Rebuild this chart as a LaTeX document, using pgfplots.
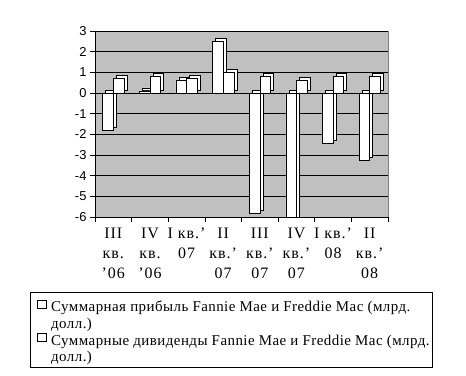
\documentclass[border=0pt]{standalone}
\usepackage{pgfplots}
\pgfplotsset{compat=1.18}
\usepackage{fontspec}
\setmainfont{Liberation Serif}
\newfontfamily\legserif{Liberation Serif}[LetterSpace=3]
\newfontfamily\wideserif{Liberation Serif}[LetterSpace=6]
\newfontfamily\arialfont{Liberation Sans}
\definecolor{wall}{HTML}{C0C0C0}
\begin{document}
\begin{tikzpicture}
\path[use as bounding box] (0,0) rectangle (466bp,376bp);
\begin{axis}[
  at={(95bp,159bp)}, anchor=south west, scale only axis,
  width=293bp, height=186bp,
  xmin=-0.5, xmax=7.5, ymin=-6, ymax=3,
  axis lines*=left,
  axis line style={black, line width=0.6bp},
  axis background/.style={fill=wall, draw=gray},
  ytick={-6,-5,...,3},
  ymajorgrids, grid style={black, line width=0.6bp},
  y tick label style={font=\arialfont\fontsize{13}{13}\selectfont},
  /pgf/number format/assume math mode=true,
  xtick={0,...,7},
  xticklabels={{III\\кв.\\’06},{IV\\кв.\\’06},{I кв.’\\07\\\strut},{II\\кв.’\\07},{III\\кв.’\\07},{IV\\кв.’\\07},{I кв.’\\08\\\strut},{II\\кв.’\\08}},
  major x tick style={draw=none},
  minor xtick={-0.5,0.5,...,7.5},
  tick align=outside,
  major tick length=5bp, minor tick length=5bp,
  tick style={black, line width=0.6bp},
  x tick label style={align=center, font=\wideserif\fontsize{16}{20}\selectfont, anchor=north, yshift=-2.5bp},
]
% profit: back face then front face
\addplot[ybar, bar width=0.29, bar shift=-0.145, fill=white, draw=black, line width=0.6bp, xshift=3bp, yshift=3bp, forget plot]
  coordinates {(0,-1.8) (1,0.1) (2,0.6) (3,2.5) (4,-5.8) (5,-6.4) (6,-2.45) (7,-3.25)};
\addplot[ybar, bar width=0.29, bar shift=-0.145, fill=white, draw=black, line width=0.6bp]
  coordinates {(0,-1.8) (1,0.1) (2,0.6) (3,2.5) (4,-5.8) (5,-6.4) (6,-2.45) (7,-3.25)};
% dividends
\addplot[ybar, bar width=0.29, bar shift=0.145, fill=white, draw=black, line width=0.6bp, xshift=3bp, yshift=3bp, forget plot]
  coordinates {(0,0.7) (1,0.8) (2,0.7) (3,1.0) (4,0.8) (5,0.6) (6,0.8) (7,0.8)};
\addplot[ybar, bar width=0.29, bar shift=0.145, fill=white, draw=black, line width=0.6bp]
  coordinates {(0,0.7) (1,0.8) (2,0.7) (3,1.0) (4,0.8) (5,0.6) (6,0.8) (7,0.8)};
\end{axis}
% legend
\draw[black, line width=0.8bp] (30bp,8.3bp) rectangle (432.7bp,83.7bp);
\draw[black, line width=0.6bp, fill=white] (37.7bp,67.7bp) rectangle (46bp,76bp);
\draw[black, line width=0.6bp, fill=white] (37.7bp,34.4bp) rectangle (46bp,42.7bp);
\begin{scope}[every node/.style={anchor=base west, inner sep=0pt, font=\legserif\fontsize{15}{16.7}\selectfont}]
\node at (51bp,64.3bp) {Суммарная прибыль Fannie Mae и Freddie Mac (млрд.};
\node at (51bp,47.7bp) {долл.)};
\node at (51bp,31bp) {Суммарные дивиденды Fannie Mae и Freddie Mac (млрд.};
\node at (51bp,14.5bp) {долл.)};
\end{scope}
\end{tikzpicture}
\end{document}
